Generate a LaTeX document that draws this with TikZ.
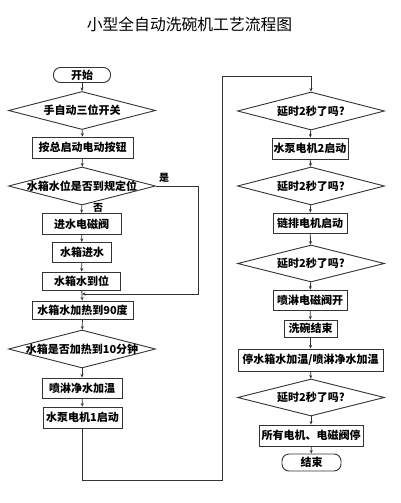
\documentclass[tikz,border=0pt]{standalone}
\usepackage{fontspec}
\newfontfamily\cjk{Noto Sans CJK SC}
\usetikzlibrary{shapes.geometric,arrows.meta}
\begin{document}
\begin{tikzpicture}[x=1pt,y=-1pt,
  nfont/.style={font=\cjk\bfseries\fontsize{11}{13}\selectfont},
  box/.style={nfont, draw=black!80, line width=0.9pt, fill=white, inner sep=0pt, minimum height=20pt},
  term/.style={box, rounded corners=7pt},
  dia/.style={draw=black!80, line width=0.9pt, diamond, inner sep=0pt, minimum width=147pt, minimum height=38pt},
  dtext/.style={nfont, inner sep=0pt},
  conn/.style={draw=black!80, line width=0.8pt, -{Stealth[length=3.5pt,width=3pt]}},
  wire/.style={draw=black!80, line width=0.8pt},
  lab/.style={font=\cjk\bfseries\fontsize{10}{12}\selectfont, inner sep=0pt}
]
\useasboundingbox (0,0) rectangle (400,503);
\fill[white] (0,0) rectangle (400,503);

\node[font=\cjk\fontsize{15.8}{18}\selectfont, inner sep=0pt] (title) at (189.5,24) {小型全自动洗碗机工艺流程图};

% left column
\node[term, minimum width=57pt, minimum height=15pt] (start) at (82,75) {开始};
\node[dia] (d1) at (82,110.5) {};
\node[dtext] (d1t) at (d1) {手自动三位开关};
\node[box, minimum width=101pt, minimum height=21pt] (r1) at (82.5,147.5) {按总启动电动按钮};
\node[dia] (d2) at (82,186) {};
\node[dtext] (d2t) at (d2) {水箱水位是否到规定位};
\node[box, minimum width=79pt, minimum height=21pt] (r2) at (81.5,224) {进水电磁阀};
\node[box, minimum width=59pt] (r3) at (82,252.5) {水箱进水};
\node[box, minimum width=78pt, minimum height=18pt] (r4) at (81.5,281) {水箱水到位};
\node[box, minimum width=101pt, minimum height=18pt] (r5) at (82.5,310) {水箱水加热到90度};
\node[dia] (d3) at (82,349) {};
\node[dtext] (d3t) at (d3) {水箱是否加热到10分钟};
\node[box, minimum width=80pt] (r6) at (82,388) {喷淋净水加温};
\node[box, minimum width=79pt, minimum height=21pt] (r7) at (82.5,417.5) {水泵电机1启动};

% right column
\node[dia] (d4) at (311,111) {};
\node[dtext] (d4t) at (d4) {延时2秒了吗?};
\node[box, minimum width=76pt, minimum height=21pt] (r8) at (310,148.5) {水泵电机2启动};
\node[dia] (d5) at (311,186) {};
\node[dtext] (d5t) at (d5) {延时2秒了吗?};
\node[box, minimum width=74pt] (r9) at (310,223) {链排电机启动};
\node[dia, minimum height=37pt] (d6) at (311,263.5) {};
\node[dtext] (d6t) at (d6) {延时2秒了吗?};
\node[box, minimum width=74pt] (r10) at (310,300) {喷淋电磁阀开};
\node[box, minimum width=53pt, minimum height=17pt] (r11) at (310.5,328.5) {洗碗结束};
\node[box, minimum width=145pt, minimum height=22pt] (r12) at (310.5,360) {停水箱水加温/喷淋净水加温};
\node[dia, minimum height=37pt] (d7) at (311,397.5) {};
\node[dtext] (d7t) at (d7) {延时2秒了吗?};
\node[box, minimum width=104pt, minimum height=21pt] (r13) at (311,435.5) {所有电机、电磁阀停};
\node[term, minimum width=59pt, minimum height=17pt] (end) at (311.5,462.5) {结束};

% helper coordinates
\coordinate (c1) at (198,294);
\coordinate (j1) at (82,294);
\coordinate (c3) at (222,480);
\coordinate (c5) at (311,76);

% left connectors
\draw[conn] (start) -- (d1);
\draw[conn] (d1) -- (r1);
\draw[conn] (r1) -- (d2);
\draw[conn] (d2) -- (r2);
\draw[conn] (r2) -- (r3);
\draw[conn] (r3) -- (r4);
\draw[conn] (r4) -- (r5);
\draw[conn] (d2.east) -| (c1) -- (j1);
\draw[conn] (r5) -- (d3);
\draw[conn] (d3) -- (r6);
\draw[conn] (r6) -- (r7);
\draw[conn] (r7.south) |- (c3) |- (c5) -- (d4.north);

% right connectors
\draw[conn] (d4) -- (r8);
\draw[conn] (r8) -- (d5);
\draw[conn] (d5) -- (r9);
\draw[conn] (r9) -- (d6);
\draw[conn] (d6) -- (r10);
\draw[conn] (r10) -- (r11);
\draw[conn] (r11) -- (r12);
\draw[conn] (r12) -- (d7);
\draw[conn] (d7) -- (r13);
\draw[conn] (r13) -- (end);

% labels
\node[lab] (yes) at (164,178) {是};
\node[lab] (no) at (98,207.5) {否};
\end{tikzpicture}
\end{document}
